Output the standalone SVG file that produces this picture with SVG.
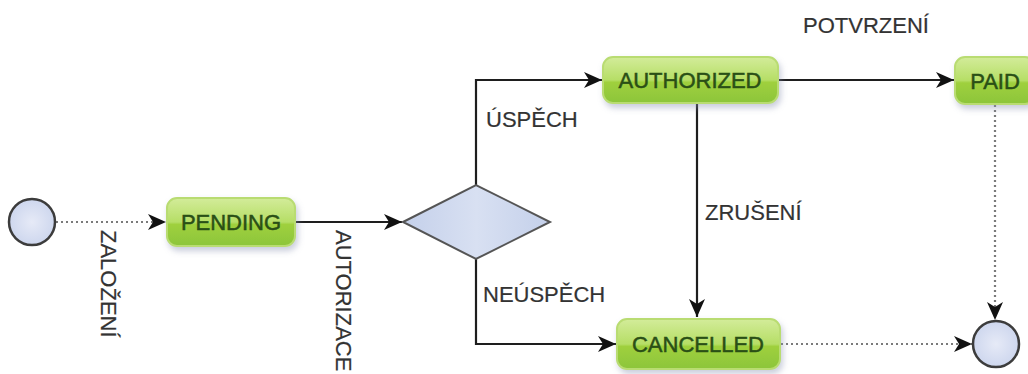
<svg xmlns="http://www.w3.org/2000/svg" width="1028" height="374" viewBox="0 0 1028 374">
<style>
.node rect{fill:url(#gGreen);stroke:#b9dc72;stroke-width:2;filter:url(#sh)}
.node text{font-family:"Liberation Sans",Arial,sans-serif;font-size:22px;fill:#2a4f16;stroke:#2a4f16;stroke-width:0.5;text-anchor:middle}
.lbl{font-family:"Liberation Sans",Arial,sans-serif;font-size:22px;fill:#333;stroke:#333;stroke-width:0.2}
.solid{fill:none;stroke:#1e1e1e;stroke-width:2.2;marker-end:url(#arr)}
.dot{fill:none;stroke:#7a7a7a;stroke-width:2.2;stroke-dasharray:2 3;marker-end:url(#arr)}
.ev{fill:url(#gBlue);stroke:#3c3c3c;stroke-width:2.5}
</style>
<defs>
<linearGradient id="gGreen" x1="0" y1="0" x2="0" y2="1">
<stop offset="0" stop-color="#d3ec9a"/>
<stop offset="0.5" stop-color="#b6de66"/>
<stop offset="0.55" stop-color="#9fd03e"/>
<stop offset="1" stop-color="#8cc53a"/>
</linearGradient>
<radialGradient id="gBlue" cx="0.5" cy="0.5" r="0.6">
<stop offset="0" stop-color="#e6eaf7"/>
<stop offset="1" stop-color="#c9d3ec"/>
</radialGradient>
<linearGradient id="gDia" x1="0" y1="0" x2="1" y2="0">
<stop offset="0" stop-color="#c4d0ea"/>
<stop offset="0.5" stop-color="#d8e0f2"/>
<stop offset="1" stop-color="#c4d0ea"/>
</linearGradient>
<filter id="sh" x="-20%" y="-30%" width="140%" height="170%">
<feDropShadow dx="2" dy="4" stdDeviation="3" flood-color="#8890b0" flood-opacity="0.45"/>
</filter>
<marker id="arr" markerUnits="userSpaceOnUse" markerWidth="20" markerHeight="18" refX="18" refY="8" orient="auto">
<path d="M0,0 L18,8 L0,16 L5,8 z" fill="#111"/>
</marker>
</defs>
<g id="connectors">
<line class="dot" x1="56" y1="222" x2="166" y2="222"/>
<line class="solid" x1="295" y1="222" x2="402" y2="222"/>
<polyline class="solid" points="476,185 476,80 602,80"/>
<polyline class="solid" points="476,259 476,344 616,344"/>
<line class="solid" x1="697" y1="103" x2="697" y2="317"/>
<line class="solid" x1="778" y1="80" x2="954" y2="80"/>
<line class="dot" x1="995" y1="105" x2="995" y2="320"/>
<line class="dot" x1="781" y1="344" x2="972" y2="344"/>
<text class="lbl" transform="translate(101,230) rotate(90)">ZALOŽENÍ</text>
<text class="lbl" transform="translate(336,230) rotate(90)">AUTORIZACE</text>
<text class="lbl" x="486" y="127">ÚSPĚCH</text>
<text class="lbl" x="483" y="302">NEÚSPĚCH</text>
<text class="lbl" x="705" y="220">ZRUŠENÍ</text>
<text class="lbl" x="803" y="33">POTVRZENÍ</text>
</g>
<g id="start"><circle class="ev" cx="32" cy="222" r="23"/></g>
<g id="pending" class="node"><rect x="167" y="198" width="128" height="48" rx="10"/><text x="231" y="230">PENDING</text></g>
<g id="decision"><polygon points="403,222 476,185 550,222 476,259" fill="url(#gDia)" stroke="#555" stroke-width="2"/></g>
<g id="authorized" class="node"><rect x="603" y="57" width="175" height="46" rx="10"/><text x="690" y="88">AUTHORIZED</text></g>
<g id="paid" class="node"><rect x="955" y="57" width="80" height="47" rx="10"/><text x="995" y="89">PAID</text></g>
<g id="cancelled" class="node"><rect x="617" y="319" width="163" height="50" rx="10"/><text x="698" y="352">CANCELLED</text></g>
<g id="end"><circle class="ev" cx="996" cy="344" r="23"/></g>
</svg>
